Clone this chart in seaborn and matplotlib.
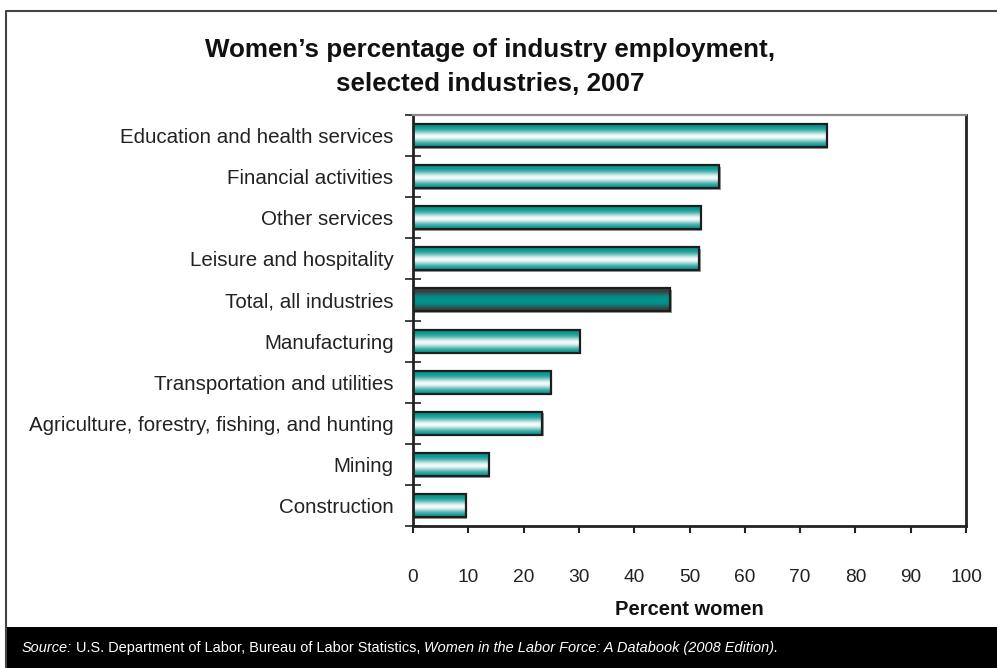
import numpy as np
import pandas as pd
import matplotlib
matplotlib.use("Agg")
import matplotlib.pyplot as plt
import seaborn as sns
from matplotlib import font_manager
from matplotlib.patches import Rectangle
from matplotlib.lines import Line2D
from matplotlib.ticker import FixedLocator

industries = [
    "Education and health services",
    "Financial activities",
    "Other services",
    "Leisure and hospitality",
    "Total, all industries",
    "Manufacturing",
    "Transportation and utilities",
    "Agriculture, forestry, fishing, and hunting",
    "Mining",
    "Construction",
]
percent_women = [74.8, 55.4, 52.0, 51.8, 46.5, 30.2, 24.9, 23.4, 13.7, 9.6]
highlight = "Total, all industries"
x_ticks = list(range(0, 101, 10))

title_lines = ["Women\u2019s percentage of industry employment,", "selected industries, 2007"]
x_label = "Percent women"
source_parts = [
    ("Source:", "italic"),
    (" U.S. Department of Labor, Bureau of Labor Statistics, ", "normal"),
    ("Women in the Labor Force: A Databook (2008 Edition).", "italic"),
]

sns.set_theme(style="white")
names = {f.name for f in font_manager.fontManager.ttflist}
base_font = "Liberation Sans" if "Liberation Sans" in names else "DejaVu Sans"
narrow_font = "Liberation Sans Narrow" if "Liberation Sans Narrow" in names else base_font
plt.rcParams["font.family"] = [base_font, "DejaVu Sans"]

W, H = 997, 668
fig = plt.figure(figsize=(W / 100, H / 100), dpi=100)
fig.patch.set_facecolor("white")

L, R, T, B = 413, 966, 115, 526
ax = fig.add_axes([L / W, 1 - B / H, (R - L) / W, (B - T) / H])

df = pd.DataFrame({"industry": industries, "pct": percent_women})
sns.barplot(data=df, x="pct", y="industry", orient="h", ax=ax, width=0.56,
            color="#00958f", edgecolor="#1e1e1e", linewidth=1.6)

# gradient fills
n = 64
t = np.linspace(0, 1, n)
teal = np.array([0x00, 0x93, 0x8c]) / 255
white = np.array([0xf4, 0xfa, 0xfa]) / 255
dark = np.array([0x3c, 0x3c, 0x3c]) / 255
w_light = np.exp(-((t - 0.56) / 0.24) ** 2)
grad_normal = teal[None, :] * (1 - w_light[:, None]) + white[None, :] * w_light[:, None]
w_dark = np.clip(1 - np.exp(-((t - 0.55) / 0.30) ** 4), 0, 1) ** 0.8
grad_total = teal[None, :] * (1 - w_dark[:, None]) + dark[None, :] * w_dark[:, None]

for patch, name in zip(ax.patches, industries):
    x0, y0 = patch.get_x(), patch.get_y()
    w, h = patch.get_width(), patch.get_height()
    g = grad_total if name == highlight else grad_normal
    img = np.repeat(g[:, None, :], 2, axis=1)
    sh = Rectangle((x0 + 0.25, y0 + 0.04), w, h, facecolor="#9a9a9a", edgecolor="none",
                   zorder=patch.get_zorder() - 0.2)
    ax.add_patch(sh)
    im = ax.imshow(img, extent=(x0, x0 + w, y0 + h, y0), origin="upper",
                   aspect="auto", interpolation="bilinear", zorder=patch.get_zorder() + 0.1)
    im.set_clip_path(patch)
    patch.set_facecolor("none")
    patch.set_zorder(patch.get_zorder() + 0.5)

ax.set_xlim(0, 100)
ax.set_ylim(len(industries) - 0.5, -0.5)
ax.set_aspect("auto")

ax.set_xticks(x_ticks)
ax.set_xticklabels([str(v) for v in x_ticks])
ax.tick_params(axis="x", direction="out", length=5, width=1.5, color="#222",
               pad=26, labelsize=13.8, labelcolor="#222", bottom=True)
ax.set_yticks(range(len(industries)))
ax.set_yticklabels(industries)
ax.tick_params(axis="y", which="major", length=0, pad=14, labelsize=14.8, labelcolor="#222")
ax.yaxis.set_minor_locator(FixedLocator(np.arange(-0.5, len(industries), 1.0)))
ax.tick_params(axis="y", which="minor", direction="inout", length=11, width=1.3,
               color="#333", left=True)
ax.set_xlabel(x_label, fontsize=14.5, fontweight="bold", color="#111", labelpad=10)
ax.set_ylabel("")

for s in ["left", "bottom", "right"]:
    ax.spines[s].set_visible(True)
    ax.spines[s].set_color("#222")
    ax.spines[s].set_linewidth(2)
ax.spines["top"].set_visible(True)
ax.spines["top"].set_color("#8a8a8a")
ax.spines["top"].set_linewidth(1.6)

# title
fig.text(490 / W, 1 - 50 / H, title_lines[0], ha="center", va="center",
         fontsize=18.7, fontweight="bold", color="#111")
fig.text(490 / W, 1 - 84 / H, title_lines[1], ha="center", va="center",
         fontsize=18.7, fontweight="bold", color="#111")

# outer frame
fig.add_artist(Line2D([5.5 / W, 5.5 / W, 1.0], [0, 1 - 11 / H, 1 - 11 / H],
                      transform=fig.transFigure, color="#444", linewidth=1.5))
fig.add_artist(Rectangle((7 / W, 0), 1, (H - 627) / H, transform=fig.transFigure,
                         facecolor="black", edgecolor="none"))

# source footnote, pieces placed sequentially and scaled to target width
fig.canvas.draw()
renderer = fig.canvas.get_renderer()
target_w = 755
fs = 11.5
texts = []
for txt, style in source_parts:
    texts.append(fig.text(0, 1 - 648 / H, txt, ha="left", va="center", color="white",
                          fontsize=fs, fontstyle=style, family=[narrow_font, "DejaVu Sans"]))
total = sum(t_.get_window_extent(renderer).width for t_ in texts)
fs2 = fs * target_w / total
for t_ in texts:
    t_.set_fontsize(fs2)
fig.canvas.draw()
xpos = 22
for t_ in texts:
    t_.set_x(xpos / W)
    xpos += t_.get_window_extent(renderer).width

fig.savefig("out.png", dpi=100)
